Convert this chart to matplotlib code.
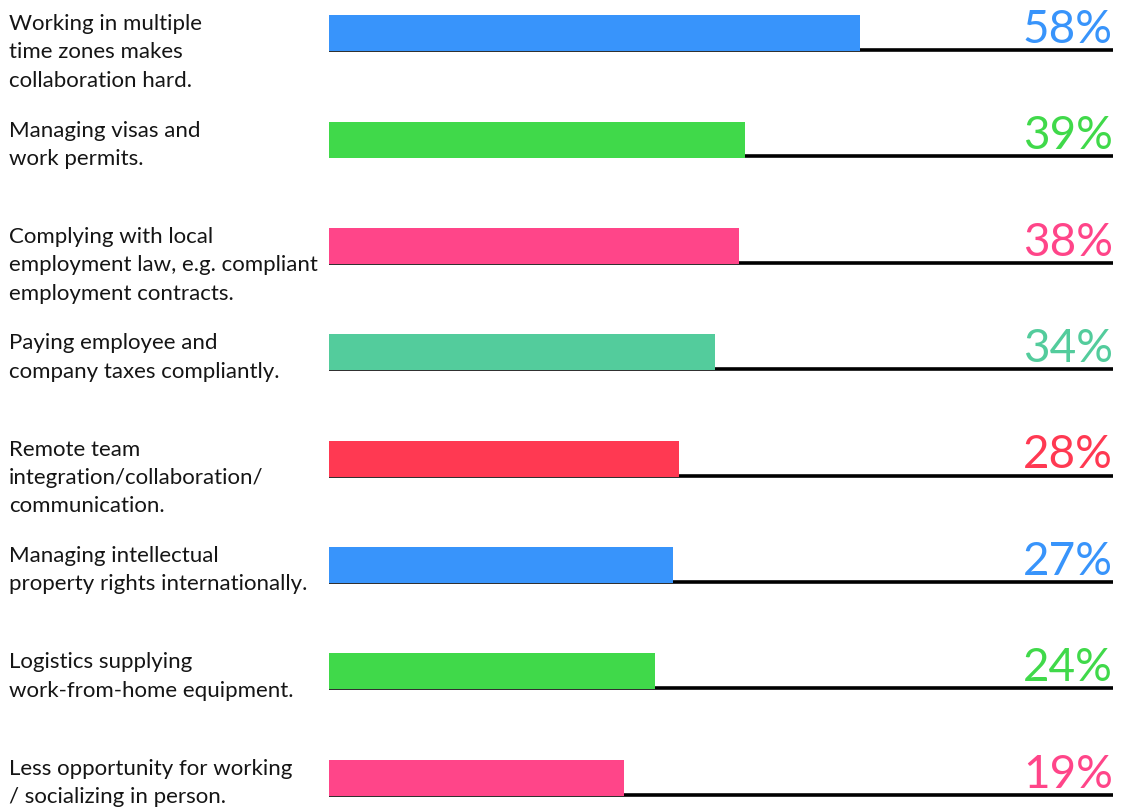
import matplotlib.pyplot as plt
import matplotlib.transforms as mtransforms
from matplotlib import font_manager

# survey answers, top to bottom
labels = [
    "Working in multiple\ntime zones makes\ncollaboration hard.",
    "Managing visas and\nwork permits.",
    "Complying with local\nemployment law, e.g. compliant\nemployment contracts.",
    "Paying employee and\ncompany taxes compliantly.",
    "Remote team\nintegration/collaboration/\ncommunication.",
    "Managing intellectual\nproperty rights internationally.",
    "Logistics supplying\nwork-from-home equipment.",
    "Less opportunity for working\n/ socializing in person.",
]
values = [58, 39, 38, 34, 28, 27, 24, 19]
colors = ["#3894fb", "#40d94a", "#ff4589", "#53cc9c",
          "#ff3952", "#3894fb", "#40d94a", "#ff4589"]

names = {f.name for f in font_manager.fontManager.ttflist}
family = "Lato" if "Lato" in names else "DejaVu Sans"

fig = plt.figure(figsize=(11.23, 8.08), dpi=100)
ax = fig.add_axes([0.293, 0.0111, 0.698, 0.974])

x0 = -30        # where the bars start on the value axis
bar_h = 0.34
ys = list(range(len(values)))

for y, v, c in zip(ys, values, colors):
    # baseline rule running under the bar to the right edge
    ax.hlines(y + bar_h / 2 - 0.012, x0, 100, color="black", lw=2.6, zorder=1)
    ax.barh(y, v - x0, left=x0, height=bar_h, color=c, zorder=2)
    ax.annotate(f"{v}%", xy=(100, y + bar_h / 2), xytext=(0, 6),
                textcoords="offset points", ha="right", va="baseline",
                fontsize=33, color=c, family=family, fontweight="normal")

# question text on the far left, top aligned with each bar
trans = mtransforms.blended_transform_factory(fig.transFigure, ax.transData)
for y, lab in zip(ys, labels):
    ax.text(0.008, y - bar_h / 2 - 0.01, lab, transform=trans, ha="left", va="top",
            fontsize=16, color="#151515", family=family, linespacing=1.52)

ax.set_xlim(x0, 100)
ax.set_ylim(7.2, -0.2)
ax.axis("off")

fig.savefig("out.png", dpi=100)
